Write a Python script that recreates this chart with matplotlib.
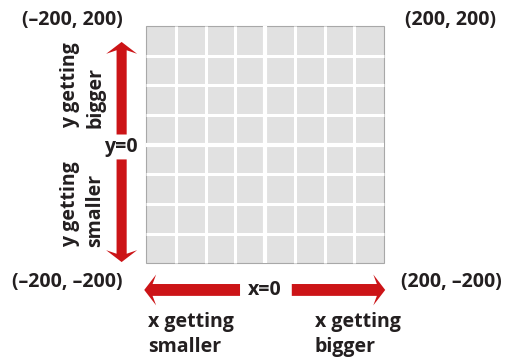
import matplotlib
matplotlib.use('Agg')
import matplotlib.pyplot as plt
from matplotlib.patches import Rectangle, FancyArrow

plt.rcParams['font.family'] = ['Open Sans', 'DejaVu Sans']

# canvas coordinate range
lim = 200
ticks = [-200, -150, -100, -50, 0, 50, 100, 150, 200]
corners = [(-200, 200), (200, 200), (-200, -200), (200, -200)]
corner_labels = ['(–200, 200)', '(200, 200)', '(–200, –200)', '(200, –200)']
axis_labels = ['x=0', 'y=0']
dir_labels = ['x getting\nsmaller', 'x getting\nbigger', 'y getting\nbigger', 'y getting\nsmaller']

red = '#cc1417'
ink = '#231f20'
fs = 14

fig = plt.figure(figsize=(5.07, 3.58), dpi=100)
ax = fig.add_axes([0, 0, 1, 1])
ax.set_xlim(-445.4, 406.7)
ax.set_ylim(-359.7, 243.7)
ax.axis('off')

# grey canvas with white grid
ax.add_patch(Rectangle((-lim, -lim), 2 * lim, 2 * lim, facecolor='#e1e1e1', edgecolor='none'))
for t in ticks[1:-1]:
    lw = 3.0 if t == 0 else 2.2
    ax.plot([t, t], [-lim, lim], color='white', lw=lw, solid_capstyle='butt')
    ax.plot([-lim, lim], [t, t], color='white', lw=lw, solid_capstyle='butt')
ax.add_patch(Rectangle((-lim, -lim), 2 * lim, 2 * lim, fill=False, edgecolor='#a8a8a8', lw=0.8))

# corner coordinates
offsets = {(-1, 1): (-124, 10), (1, 1): (111, 10), (-1, -1): (-133, -32), (1, -1): (114, -32)}
for (cx, cy), lab in zip(corners, corner_labels):
    dx, dy = offsets[(cx // lim, cy // lim)]
    ax.text(cx + dx, cy + dy, lab, ha='center', va='center', fontsize=fs,
            fontweight='bold', color=ink)

# arrows along the axes
ay = -245
ax_x = -241
akw = dict(length_includes_head=True, head_width=52, head_length=20, overhang=0.3,
           color=red, lw=0)
ax.add_patch(FancyArrow(-42, ay, -161, 0, width=20, **akw))
ax.add_patch(FancyArrow(45, ay, 157, 0, width=20, **akw))
ax.add_patch(FancyArrow(ax_x, 17, 0, 156, width=17, **akw))
ax.add_patch(FancyArrow(ax_x, -25, 0, -173, width=17, **akw))

ax.text(0, ay, axis_labels[0], ha='center', va='center', fontsize=fs,
        fontweight='bold', color=ink)
ax.text(-214, -4, axis_labels[1], ha='right', va='center', fontsize=fs,
        fontweight='bold', color=ink)

# direction labels
ax.text(-197, -282, dir_labels[0], ha='left', va='top', fontsize=fs,
        fontweight='bold', color=ink, linespacing=1.32)
ax.text(84, -282, dir_labels[1], ha='left', va='top', fontsize=fs,
        fontweight='bold', color=ink, linespacing=1.32)
ax.text(-306, 28.6, dir_labels[2], ha='center', va='bottom', rotation=90,
        multialignment='left', fontsize=fs, fontweight='bold', color=ink, linespacing=1.32)
ax.text(-306, -173, dir_labels[3], ha='center', va='bottom', rotation=90,
        multialignment='left', fontsize=fs, fontweight='bold', color=ink, linespacing=1.32)

fig.savefig('out.png', dpi=100)
